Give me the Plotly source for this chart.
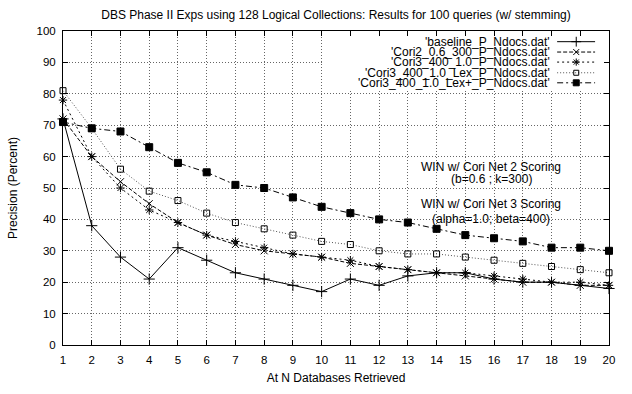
import plotly.graph_objects as go

# ---- data ----
n_databases = list(range(1, 21))
baseline = [72, 38, 28, 21, 31, 27, 23, 21, 19, 17, 21, 19, 22, 23, 23, 21, 20, 20, 19, 18]
cori2 = [72, 60, 52, 45, 39, 35, 32, 30, 29, 28, 26, 25, 24, 23, 22, 21, 20, 20, 19, 19]
cori3 = [78, 60, 50, 43, 39, 35, 33, 31, 29, 28, 27, 25, 24, 23, 23, 22, 21, 20, 20, 19]
cori3_lex = [81, 69, 56, 49, 46, 42, 39, 37, 35, 33, 32, 30, 29, 29, 28, 27, 26, 25, 24, 23]
cori3_lexp = [71, 69, 68, 63, 58, 55, 51, 50, 47, 44, 42, 40, 39, 37, 35, 34, 33, 31, 31, 30]

series_names = ["'baseline_P_Ndocs.dat'", "'Cori2_0.6_300_P_Ndocs.dat'",
                "'Cori3_400_1.0_P_Ndocs.dat'", "'Cori3_400_1.0_Lex_P_Ndocs.dat'",
                "'Cori3_400_1.0_Lex+_P_Ndocs.dat'"]
series_values = [baseline, cori2, cori3, cori3_lex, cori3_lexp]

note_texts = ["WIN w/ Cori Net 2 Scoring", "(b=0.6 ; k=300)",
              "WIN w/ Cori Net 3 Scoring", "(alpha=1.0; beta=400)"]
note_x = [15.9, 15.9, 15.9, 15.9]
note_y = [56.6, 53.0, 45.0, 40.0]

x_ticks = list(range(1, 21))
y_ticks = list(range(0, 101, 10))

# ---- styles ----
styles = [
    dict(dash="solid", color="black", symbol="cross-thin-open", size=8),
    dict(dash="4px,2px", color="black", symbol="x-thin-open", size=7),
    dict(dash="2px,3px", color="black", symbol="asterisk-open", size=7),
    dict(dash="1px,2px", color="#555555", symbol="square-open", size=6),
    dict(dash="6px,3px,2px,3px", color="black", symbol="square", size=7),
]

FONT = "Liberation Sans, Arial, Helvetica, sans-serif"
FS = 12

fig = go.Figure()
for name, vals, st in zip(series_names, series_values, styles):
    fig.add_trace(go.Scatter(
        x=n_databases, y=vals, mode="lines+markers", name=name,
        line=dict(color=st["color"], width=1, dash=st["dash"]),
        marker=dict(symbol=st["symbol"], size=st["size"], color="black",
                    line=dict(color="black", width=1)),
        showlegend=False, cliponaxis=False,
    ))

# manual gnuplot-style key (text left, sample right) on an overlay axis
key_rows = [0.966, 0.933, 0.901, 0.867, 0.835]
for name, st, ry in zip(series_names, styles, key_rows):
    fig.add_trace(go.Scatter(
        x=[0.905, 0.9745], y=[ry, ry], mode="lines", xaxis="x2", yaxis="y2",
        line=dict(color=st["color"], width=1, dash=st["dash"]),
        showlegend=False, hoverinfo="skip", cliponaxis=False))
    fig.add_trace(go.Scatter(
        x=[0.94], y=[ry], mode="markers", xaxis="x2", yaxis="y2",
        marker=dict(symbol=st["symbol"], size=st["size"] - 1, color="black",
                    line=dict(color="black", width=1)),
        showlegend=False, hoverinfo="skip", cliponaxis=False))
    fig.add_annotation(x=0.896, y=ry, xref="x2", yref="y2", text=name,
                       showarrow=False, xanchor="right", yanchor="middle",
                       font=dict(size=FS, color="black", family=FONT))

for t, xx, yy in zip(note_texts, note_x, note_y):
    fig.add_annotation(x=xx, y=yy, xref="x", yref="y", text=t, showarrow=False,
                       xanchor="center", yanchor="middle",
                       font=dict(size=FS, color="black", family=FONT))

# white key box hiding grid behind the key
fig.add_shape(type="rect", xref="x", yref="y", x0=10.05, x1=20, y0=81.5, y1=100,
              fillcolor="white", line=dict(width=0), layer="between")

axis_common = dict(showline=True, linecolor="black", linewidth=1, mirror="ticks",
                   ticks="inside", ticklen=5, tickcolor="black",
                   showgrid=True, gridcolor="#666666", griddash="1px,2px", gridwidth=1,
                   zeroline=False, ticklabelstandoff=4,
                   tickfont=dict(size=11.5, color="black", family=FONT))

fig.update_layout(
    width=632, height=394,
    margin=dict(l=60, r=23, t=31, b=35),
    paper_bgcolor="white", plot_bgcolor="white",
    title=dict(text="DBS Phase II Exps using 128 Logical Collections: Results for 100 queries (w/ stemming)",
               x=0.5, xref="paper", y=0.962, yanchor="middle",
               font=dict(size=FS, color="black", family=FONT)),
    xaxis=dict(range=[1, 20], tickvals=x_ticks, title=dict(text="At N Databases Retrieved",
               standoff=8, font=dict(size=FS, color="black", family=FONT)), **axis_common),
    yaxis=dict(range=[0, 100], tickvals=y_ticks, title=dict(text="Precision (Percent)",
               standoff=16, font=dict(size=FS, color="black", family=FONT)), **axis_common),
    xaxis2=dict(range=[0, 1], overlaying="x", visible=False, showgrid=False),
    yaxis2=dict(range=[0, 1], overlaying="y", visible=False, showgrid=False),
    showlegend=False,
)

fig.write_html("out.html")
